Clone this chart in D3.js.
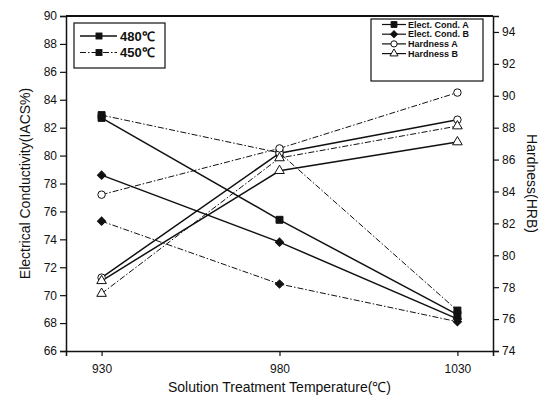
<!DOCTYPE html>
<html>
<head>
<meta charset="utf-8">
<script src="https://cdn.jsdelivr.net/npm/d3@7"></script>
<style>
  body { margin: 0; background: #fff; }
  text { font-family: "Liberation Sans", Arial, sans-serif; fill: #111; }
</style>
</head>
<body>
<div id="chart"></div>
<script>
// data
const temps = [930, 980, 1030];
const condA480 = [82.7, 75.4, 68.6];
const condA450 = [82.9, 80.2, 68.9];
const condB480 = [78.6, 73.8, 68.3];
const condB450 = [75.3, 70.8, 68.1];
const hardA480 = [78.6, 86.4, 88.5];
const hardA450 = [83.8, 86.7, 90.2];
const hardB480 = [78.4, 85.3, 87.1];
const hardB450 = [77.6, 86.1, 88.1];

const xTicks = [930, 980, 1030];
const leftTicks = d3.range(66, 91, 2);
const rightTicks = d3.range(74, 95, 2);

const width = 542, height = 397;
const margin = { top: 16, right: 49, bottom: 46, left: 66 };

const svg = d3.select("#chart").append("svg")
    .attr("width", width)
    .attr("height", height);

const x = d3.scaleLinear().domain([920, 1040]).range([margin.left, width - margin.right]);
const yL = d3.scaleLinear().domain([66, 90]).range([height - margin.bottom, margin.top]);
const yR = d3.scaleLinear().domain([74, 95]).range([height - margin.bottom, margin.top]);

const solid = null;
const dashdot = "6,2,1.5,2";

// series: which axis, marker, line style
const series = [
    { vals: condA480, axis: yL, mark: "square", dash: solid },
    { vals: condA450, axis: yL, mark: "square", dash: dashdot },
    { vals: condB480, axis: yL, mark: "diamond", dash: solid },
    { vals: condB450, axis: yL, mark: "diamond", dash: dashdot },
    { vals: hardA480, axis: yR, mark: "circle", dash: solid },
    { vals: hardA450, axis: yR, mark: "circle", dash: dashdot },
    { vals: hardB480, axis: yR, mark: "triangle", dash: solid },
    { vals: hardB450, axis: yR, mark: "triangle", dash: dashdot }
];

// diamond = square turned 45 degrees (d3's own diamond is too tall)
const symbols = {
    square: { type: d3.symbolSquare, size: 48, fill: "#111", rot: 0 },
    diamond: { type: d3.symbolSquare, size: 34, fill: "#111", rot: 45 },
    circle: { type: d3.symbolCircle, size: 44, fill: "#fff", rot: 0 },
    triangle: { type: d3.symbolTriangle, size: 40, fill: "#fff", rot: 0 }
};

// lines
series.forEach(s => {
    const line = d3.line()
        .x((d, i) => x(temps[i]))
        .y(d => s.axis(d));
    svg.append("path")
        .datum(s.vals)
        .attr("d", line)
        .attr("fill", "none")
        .attr("stroke", "#111")
        .attr("stroke-width", s.dash ? 1 : 1.5)
        .attr("stroke-dasharray", s.dash);
});

// markers
series.forEach(s => {
    const sym = symbols[s.mark];
    svg.append("g")
        .selectAll("path")
        .data(s.vals)
        .enter()
        .append("path")
        .attr("transform", (d, i) => `translate(${x(temps[i])},${s.axis(d)}) rotate(${sym.rot})`)
        .attr("d", d3.symbol().type(sym.type).size(sym.size))
        .attr("fill", sym.fill)
        .attr("stroke", "#111")
        .attr("stroke-width", 1);
});

// axes
const bottom = height - margin.bottom;
const gx = svg.append("g").attr("transform", `translate(0,${bottom})`);
gx.call(d3.axisBottom(x).tickValues(d3.range(920, 1041, 10)).tickSize(3).tickFormat(""));
gx.call(d3.axisBottom(x).tickValues(xTicks).tickSize(5).tickPadding(8).tickFormat(d3.format("d")));

const gl = svg.append("g").attr("transform", `translate(${margin.left},0)`);
gl.call(d3.axisLeft(yL).tickValues(d3.range(66, 91, 1)).tickSize(3).tickFormat(""));
gl.call(d3.axisLeft(yL).tickValues(leftTicks).tickSize(6).tickPadding(3));

const gr = svg.append("g").attr("transform", `translate(${width - margin.right},0)`);
gr.call(d3.axisRight(yR).tickValues(d3.range(74, 96, 1)).tickSize(3).tickFormat(""));
gr.call(d3.axisRight(yR).tickValues(rightTicks).tickSize(6).tickPadding(3));

svg.selectAll(".domain").attr("stroke", "#111").attr("stroke-width", 1.5);
svg.selectAll(".tick line").attr("stroke", "#111").attr("stroke-width", 1.2);
svg.selectAll(".tick text").style("font-size", "12px").attr("fill", "#111");

// top frame
svg.append("line")
    .attr("x1", margin.left).attr("x2", width - margin.right)
    .attr("y1", margin.top).attr("y2", margin.top)
    .attr("stroke", "#111").attr("stroke-width", 2);

// axis titles
svg.append("text")
    .attr("x", (margin.left + width - margin.right) / 2)
    .attr("y", 392)
    .attr("text-anchor", "middle")
    .style("font-size", "14px")
    .text("Solution Treatment Temperature(℃)");

svg.append("text")
    .attr("transform", `translate(30,${(margin.top + bottom) / 2}) rotate(-90)`)
    .attr("text-anchor", "middle")
    .style("font-size", "14px")
    .text("Electrical Conductivity(IACS%)");

svg.append("text")
    .attr("transform", `translate(527,${(margin.top + bottom) / 2}) rotate(90)`)
    .attr("text-anchor", "middle")
    .style("font-size", "14px")
    .text("Hardness(HRB)");

// left legend: temperatures
const legL = svg.append("g");
legL.append("rect")
    .attr("x", 74).attr("y", 23).attr("width", 91).attr("height", 45)
    .attr("fill", "#fff").attr("stroke", "#111").attr("stroke-width", 1.2);
[{ label: "480℃", dash: solid }, { label: "450℃", dash: dashdot }].forEach((d, i) => {
    const yy = 36 + i * 16.5;
    legL.append("line")
        .attr("x1", 80).attr("x2", 117).attr("y1", yy).attr("y2", yy)
        .attr("stroke", "#111").attr("stroke-width", d.dash ? 1 : 1.5)
        .attr("stroke-dasharray", d.dash);
    legL.append("path")
        .attr("transform", `translate(99,${yy})`)
        .attr("d", d3.symbol().type(d3.symbolSquare).size(48))
        .attr("fill", "#111");
    legL.append("text")
        .attr("x", 120).attr("y", yy + 4.5)
        .style("font-size", "13px").style("font-weight", "bold")
        .text(d.label);
});

// right legend: properties
const legR = svg.append("g");
legR.append("rect")
    .attr("x", 371).attr("y", 19).attr("width", 112).attr("height", 62)
    .attr("fill", "#fff").attr("stroke", "#111").attr("stroke-width", 1.2);
[
    { label: "Elect. Cond. A", mark: "square" },
    { label: "Elect. Cond. B", mark: "diamond" },
    { label: "Hardness A", mark: "circle" },
    { label: "Hardness B", mark: "triangle" }
].forEach((d, i) => {
    const yy = 24.5 + i * 9.7;
    const sym = symbols[d.mark];
    legR.append("line")
        .attr("x1", 382).attr("x2", 406).attr("y1", yy).attr("y2", yy)
        .attr("stroke", "#111").attr("stroke-width", 1.2);
    legR.append("path")
        .attr("transform", `translate(394,${yy}) rotate(${sym.rot})`)
        .attr("d", d3.symbol().type(sym.type).size(sym.size * 0.7))
        .attr("fill", sym.fill).attr("stroke", "#111").attr("stroke-width", 1);
    legR.append("text")
        .attr("x", 408).attr("y", yy + 3)
        .style("font-size", "9px").style("font-weight", "bold")
        .text(d.label);
});
</script>
</body>
</html>
